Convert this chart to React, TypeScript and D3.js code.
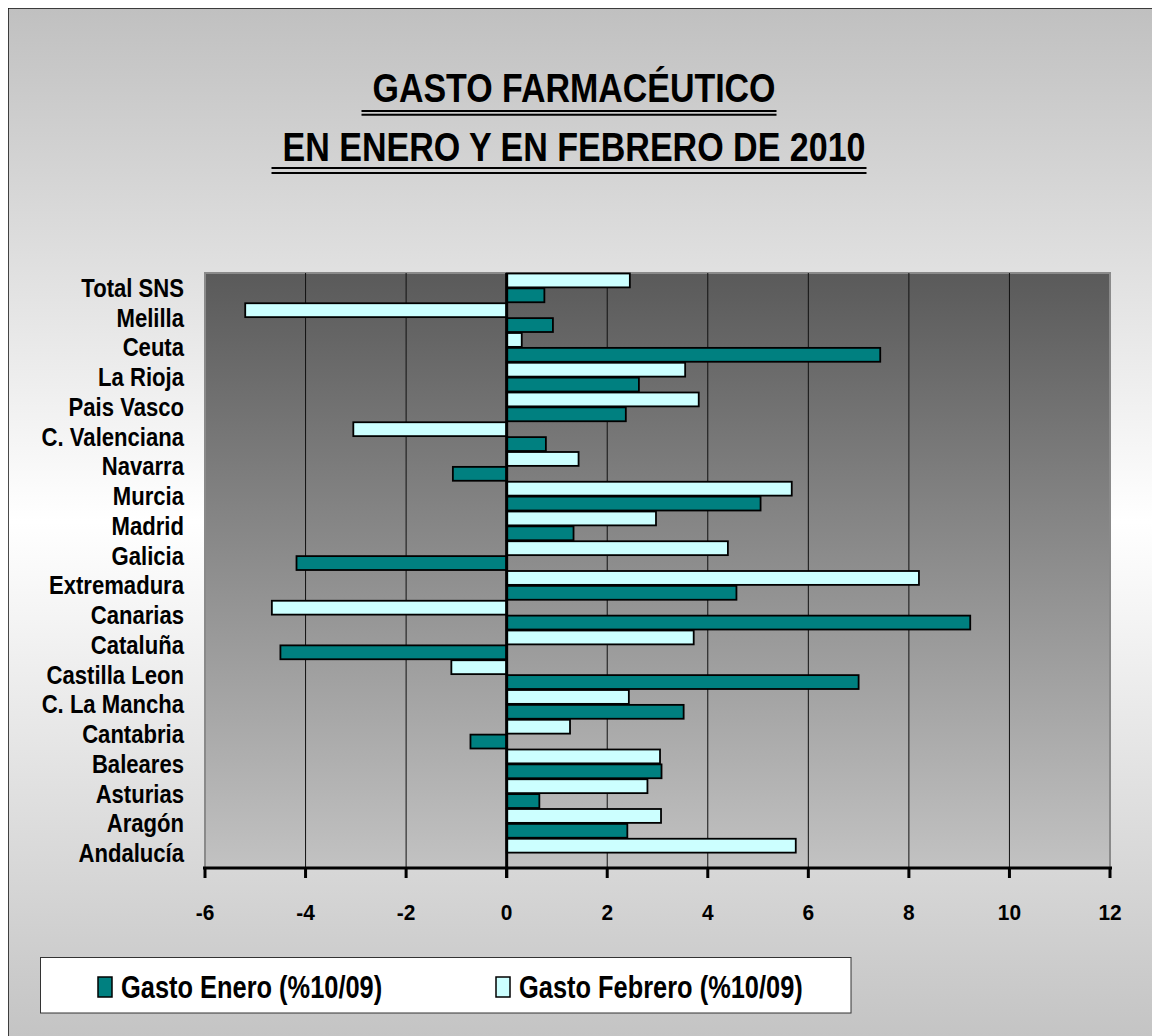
import React from "react";
import * as d3 from "d3";

const categories = [
  "Total SNS", "Melilla", "Ceuta", "La Rioja", "Pais Vasco", "C. Valenciana",
  "Navarra", "Murcia", "Madrid", "Galicia", "Extremadura", "Canarias",
  "Cataluña", "Castilla Leon", "C. La Mancha", "Cantabria", "Baleares",
  "Asturias", "Aragón", "Andalucía",
];
const gastoEnero = [
  0.75, 0.92, 7.43, 2.63, 2.37, 0.78, -1.07, 5.05, 1.33, -4.18, 4.57, 9.22,
  -4.5, 7.0, 3.52, -0.72, 3.08, 0.65, 2.4, 0,
];
const gastoFebrero = [
  2.45, -5.2, 0.3, 3.55, 3.82, -3.05, 1.43, 5.67, 2.97, 4.4, 8.2, -4.67,
  3.72, -1.1, 2.43, 1.26, 3.05, 2.8, 3.07, 5.75,
];
const xTicks = [-6, -4, -2, 0, 2, 4, 6, 8, 10, 12];
const seriesNames = ["Gasto Enero (%10/09)", "Gasto Febrero (%10/09)"];
const titleLines = [" GASTO FARMACÉUTICO", " EN ENERO Y EN FEBRERO DE 2010"];

const FONT = "'Liberation Sans', Arial, sans-serif";
const TEAL = "#008080";
const CYAN = "#ccffff";

export default function App() {
  const left = 205, right = 1110, top = 273, bottom = 868;
  const x = d3.scaleLinear().domain([-6, 12]).range([left, right]);
  const y = d3.scaleBand<string>().domain(categories).range([top, bottom]).padding(0);
  const sub = d3.scaleBand<string>().domain(["feb", "ene"]).range([0, y.bandwidth()]).padding(0);

  const rows = categories.map((c, i) => ({ c, ene: gastoEnero[i], feb: gastoFebrero[i] }));

  const titleCx = 574;
  const titleW = [403, 583];
  const titleBase = [102, 161];
  const underlineY = [[111, 114.8], [168, 173]];

  return (
    <>
      <style>{`html,body{overflow:hidden}`}</style>
      <svg width={1152} height={1028} style={{ display: "block" }}>
        <defs>
          <linearGradient id="bg" gradientUnits="userSpaceOnUse" x1="0" y1="8" x2="0" y2="1036">
            <stop offset="0" stopColor="#c0c0c0" />
            <stop offset="0.5" stopColor="#ffffff" />
            <stop offset="1" stopColor="#c4c4c4" />
          </linearGradient>
          <linearGradient id="plotbg" gradientUnits="userSpaceOnUse" x1="0" y1={top} x2="0" y2={bottom}>
            <stop offset="0" stopColor="#5a5a5a" />
            <stop offset="1" stopColor="#c2c2c2" />
          </linearGradient>
        </defs>
        <g transform="translate(-8,-8)">
          <rect x={8} y={8} width={1200} height={1100} fill="url(#bg)" stroke="#111" strokeWidth={1.5} />

          {/* title */}
          {titleLines.map((t, i) => (
            <g key={i}>
              <text
                x={titleCx}
                y={titleBase[i]}
                textAnchor="middle"
                fontFamily={FONT}
                fontWeight="bold"
                fontSize={41}
                textLength={titleW[i]}
                lengthAdjust="spacingAndGlyphs"
                fill="#000"
              >
                {t.trim()}
              </text>
              {underlineY[i].map((uy, j) => (
                <line
                  key={j}
                  x1={titleCx - titleW[i] / 2 - 11}
                  x2={titleCx + titleW[i] / 2 + 1}
                  y1={uy}
                  y2={uy}
                  stroke="#000"
                  strokeWidth={2}
                />
              ))}
            </g>
          ))}

          {/* plot area */}
          <rect x={left} y={top} width={right - left} height={bottom - top} fill="url(#plotbg)" stroke="#8a8a8a" strokeWidth={2} />

          {/* gridlines */}
          {xTicks.filter((t) => t !== -6 && t !== 12 && t !== 0).map((t) => (
            <line key={t} x1={x(t)} x2={x(t)} y1={top} y2={bottom} stroke="#111" strokeWidth={1} />
          ))}

          {/* bars */}
          {rows.map((r) => {
            const y0 = y(r.c)!;
            return (
              <g key={r.c}>
                <rect
                  x={Math.min(x(0), x(r.feb))}
                  y={y0 + sub("feb")! + 0.5}
                  width={Math.abs(x(r.feb) - x(0))}
                  height={sub.bandwidth() - 1}
                  fill={CYAN}
                  stroke="#000"
                  strokeWidth={1.8}
                />
                <rect
                  x={Math.min(x(0), x(r.ene))}
                  y={y0 + sub("ene")! + 0.5}
                  width={Math.abs(x(r.ene) - x(0))}
                  height={sub.bandwidth() - 1}
                  fill={TEAL}
                  stroke="#000"
                  strokeWidth={1.8}
                />
              </g>
            );
          })}

          {/* zero axis */}
          <line x1={x(0)} x2={x(0)} y1={top} y2={bottom + 10} stroke="#000" strokeWidth={3} />

          {/* bottom axis */}
          <line x1={left - 2} x2={right + 2} y1={bottom} y2={bottom} stroke="#000" strokeWidth={3.2} />
          {xTicks.map((t) => (
            <g key={t}>
              <line x1={x(t)} x2={x(t)} y1={bottom} y2={bottom + 10} stroke="#000" strokeWidth={3} />
              <text
                transform={`translate(${x(t)},${920}) scale(0.95,1)`}
                textAnchor="middle"
                fontFamily={FONT}
                fontWeight="bold"
                fontSize={22}
                fill="#000"
              >
                {t}
              </text>
            </g>
          ))}

          {/* category labels */}
          {categories.map((c) => (
            <text
              key={c}
              transform={`translate(184,${y(c)! + y.bandwidth() / 2 + 9}) scale(0.85,1)`}
              textAnchor="end"
              fontFamily={FONT}
              fontWeight="bold"
              fontSize={26}
              fill="#000"
            >
              {c}
            </text>
          ))}

          {/* legend */}
          <rect x={40.5} y={957.5} width={810.5} height={55.5} fill="#fff" stroke="#333" strokeWidth={1} />
          {seriesNames.map((s, i) => {
            const sx = i === 0 ? 98 : 496;
            return (
              <g key={s}>
                <rect x={sx} y={977} width={14} height={20} fill={i === 0 ? TEAL : CYAN} stroke="#000" strokeWidth={1.5} />
                <text
                  transform={`translate(${sx + 23},998) scale(0.82,1)`}
                  fontFamily={FONT}
                  fontWeight="bold"
                  fontSize={31}
                  fill="#000"
                >
                  {s}
                </text>
              </g>
            );
          })}
        </g>
      </svg>
    </>
  );
}
